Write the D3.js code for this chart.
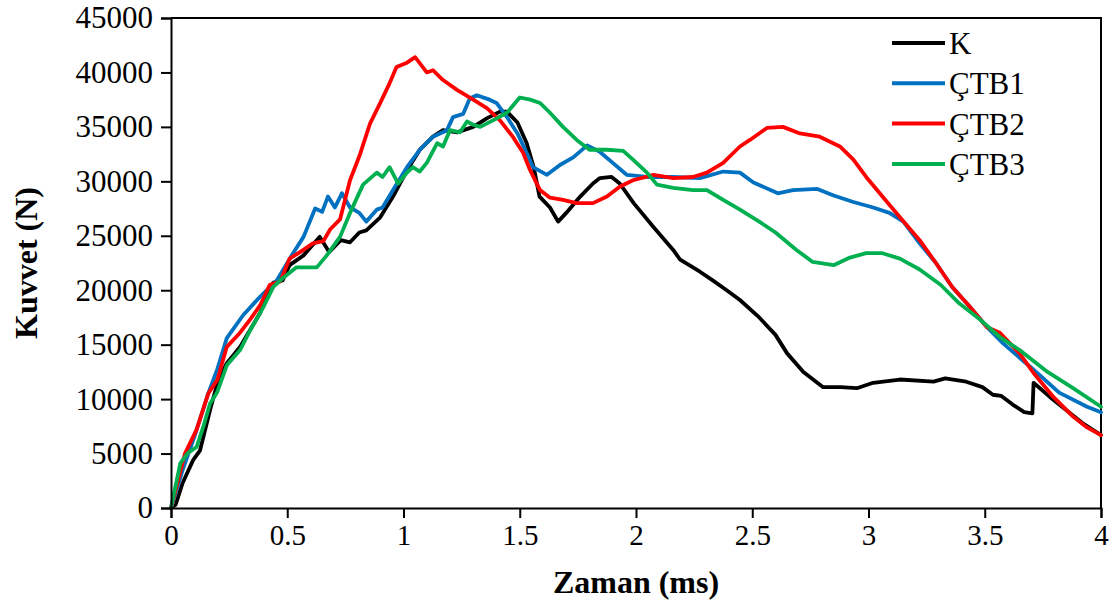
<!DOCTYPE html>
<html>
	<head>
		<meta charset="utf-8">
		<title></title>
		<script src="https://d3js.org/d3.v7.min.js"></script>
		<style>
			body { margin: 0; background: #fff; }
			text { font-family: "Liberation Serif", "Times New Roman", serif; fill: #000; }
		</style>
	</head>
	<body>
		<div class="main_div"></div>
		<script>

			// Dados (tempo em ms, kuvvet em N)
			var serieNomes = ["K", "ÇTB1", "ÇTB2", "ÇTB3"];
			var serieCores = ["#000000", "#0070C0", "#FF0000", "#00B050"];

			var tK = [0, 0.02, 0.05, 0.095, 0.125, 0.168, 0.2, 0.24, 0.297, 0.383, 0.44, 0.48, 0.51, 0.57, 0.64, 0.68, 0.73, 0.77, 0.81, 0.84, 0.9, 0.955, 1.015, 1.07, 1.127, 1.17, 1.23, 1.30, 1.36, 1.415, 1.445, 1.49, 1.53, 1.56, 1.585, 1.63, 1.665, 1.70, 1.76, 1.815, 1.845, 1.895, 1.93, 1.99, 2.075, 2.16, 2.19, 2.275, 2.33, 2.39, 2.447, 2.53, 2.6, 2.65, 2.72, 2.805, 2.88, 2.95, 3.02, 3.135, 3.28, 3.33, 3.42, 3.49, 3.535, 3.57, 3.62, 3.67, 3.705, 3.71, 3.78, 3.85, 3.92, 4.0];
			var fK = [0, 300, 2300, 4400, 5300, 9000, 11500, 13300, 14800, 17900, 20700, 20900, 22300, 23200, 24900, 23500, 24600, 24400, 25300, 25500, 26700, 28600, 31000, 32900, 34100, 34700, 34500, 35000, 35800, 36400, 36400, 35400, 33500, 31300, 28600, 27600, 26300, 27100, 28600, 29800, 30300, 30400, 29800, 28000, 25800, 23700, 22800, 21700, 20900, 20000, 19100, 17500, 15900, 14200, 12500, 11100, 11100, 11000, 11500, 11800, 11600, 11900, 11600, 11100, 10400, 10300, 9500, 8800, 8700, 11500, 10200, 9000, 7800, 6700];

			var tC1 = [0, 0.05, 0.1, 0.16, 0.2, 0.24, 0.31, 0.383, 0.455, 0.525, 0.57, 0.62, 0.65, 0.675, 0.705, 0.735, 0.77, 0.81, 0.84, 0.885, 0.91, 0.955, 1.015, 1.07, 1.127, 1.187, 1.213, 1.257, 1.285, 1.315, 1.37, 1.40, 1.445, 1.49, 1.53, 1.557, 1.617, 1.673, 1.73, 1.79, 1.845, 1.90, 1.96, 2.047, 2.16, 2.275, 2.375, 2.447, 2.505, 2.61, 2.675, 2.78, 2.85, 2.935, 3.02, 3.09, 3.15, 3.22, 3.29, 3.36, 3.435, 3.51, 3.58, 3.65, 3.71, 3.82, 3.94, 4.0];
			var fC1 = [0, 3500, 6500, 10500, 12800, 15600, 17700, 19400, 20900, 23400, 24900, 27500, 27200, 28600, 27600, 28900, 27600, 27100, 26300, 27400, 27600, 29200, 31300, 32900, 34100, 34700, 35900, 36200, 37600, 37900, 37500, 37200, 35900, 34400, 32600, 31300, 30600, 31500, 32200, 33300, 32700, 31700, 30600, 30400, 30400, 30300, 30900, 30800, 29900, 28900, 29200, 29300, 28700, 28100, 27600, 27100, 26300, 24300, 22500, 20300, 18500, 16600, 15100, 13800, 12700, 10600, 9300, 8800];

			var tC2 = [0, 0.06, 0.11, 0.16, 0.2, 0.24, 0.297, 0.34, 0.383, 0.425, 0.47, 0.51, 0.555, 0.61, 0.655, 0.685, 0.727, 0.77, 0.81, 0.856, 0.9, 0.94, 0.97, 1.015, 1.05, 1.10, 1.127, 1.17, 1.23, 1.30, 1.36, 1.415, 1.47, 1.515, 1.545, 1.587, 1.63, 1.686, 1.745, 1.815, 1.875, 1.93, 1.987, 2.075, 2.16, 2.245, 2.305, 2.375, 2.447, 2.49, 2.563, 2.632, 2.705, 2.79, 2.877, 2.935, 2.99, 3.06, 3.135, 3.22, 3.29, 3.36, 3.435, 3.51, 3.565, 3.65, 3.71, 3.795, 3.88, 3.94, 4.0];
			var fC2 = [0, 5000, 7200, 10500, 11800, 14800, 16100, 17300, 18600, 20500, 20800, 22900, 23500, 24300, 24500, 25600, 26500, 30100, 32300, 35300, 37200, 39000, 40500, 40900, 41400, 40000, 40200, 39300, 38400, 37500, 36700, 35600, 34100, 32600, 31000, 29200, 28500, 28300, 28000, 28000, 28600, 29500, 30100, 30600, 30300, 30400, 30800, 31700, 33200, 33800, 34900, 35000, 34400, 34100, 33200, 32000, 30400, 28600, 26700, 24600, 22500, 20300, 18500, 16600, 16100, 14200, 12400, 10200, 8400, 7400, 6700];

			var tC3 = [0, 0.04, 0.07, 0.11, 0.138, 0.168, 0.198, 0.24, 0.297, 0.34, 0.396, 0.44, 0.48, 0.54, 0.627, 0.67, 0.727, 0.77, 0.826, 0.885, 0.91, 0.94, 0.977, 1.015, 1.04, 1.07, 1.10, 1.145, 1.17, 1.2, 1.243, 1.273, 1.3, 1.33, 1.385, 1.445, 1.5, 1.545, 1.587, 1.63, 1.686, 1.745, 1.80, 1.875, 1.945, 1.987, 2.047, 2.09, 2.16, 2.245, 2.305, 2.375, 2.447, 2.53, 2.6, 2.69, 2.76, 2.85, 2.92, 2.99, 3.06, 3.135, 3.22, 3.31, 3.39, 3.48, 3.565, 3.65, 3.77, 3.88, 4.0];
			var fC3 = [0, 4100, 5000, 5600, 7400, 9600, 10600, 13100, 14500, 16300, 18400, 20300, 21100, 22100, 22100, 23200, 24900, 27100, 29700, 30800, 30400, 31300, 29800, 30800, 31300, 30900, 31700, 33500, 33200, 34700, 34500, 35500, 35200, 35000, 35600, 36300, 37700, 37500, 37200, 36300, 35000, 33800, 32900, 32900, 32800, 32000, 30800, 29700, 29400, 29200, 29200, 28300, 27400, 26300, 25300, 23700, 22600, 22300, 23000, 23400, 23400, 22900, 21900, 20500, 18800, 17300, 15700, 14500, 12500, 11000, 9300];

			var xTicks = [0, 0.5, 1, 1.5, 2, 2.5, 3, 3.5, 4];
			var yTicks = [0, 5000, 10000, 15000, 20000, 25000, 30000, 35000, 40000, 45000];

			var tempos = [tK, tC1, tC2, tC3];
			var forcas = [fK, fC1, fC2, fC3];
			var series = serieNomes.map(function(n, i){
				return { nome: n, cor: serieCores[i], pontos: tempos[i].map(function(t, j){ return [t, forcas[i][j]]; }) };
			});

			// Svg
			var W = 1115, H = 603;
			var mLeft = 171, mRight = 1101, mTop = 18, mBottom = 508;
			var svg = d3.select(".main_div").append("svg").attr("width", W).attr("height", H);

			// Escalas
			var xScale = d3.scaleLinear().domain([0, 4]).range([mLeft, mRight]);
			var yScale = d3.scaleLinear().domain([0, 45000]).range([mBottom, mTop]);

			// Moldura superior e direita
			svg.append("path").attr("d", "M" + mLeft + "," + mTop + "H" + mRight + "V" + mBottom)
				.attr("fill", "none").attr("stroke", "#000").attr("stroke-width", 2);

			// Linhas
			var linha = d3.line().x(function(d){ return xScale(d[0]); }).y(function(d){ return yScale(d[1]); });
			svg.selectAll("path.serie").data(series).enter().append("path")
				.attr("class", "serie")
				.attr("d", function(d){ return linha(d.pontos); })
				.attr("fill", "none")
				.attr("stroke", function(d){ return d.cor; })
				.attr("stroke-width", 3.8)
				.attr("stroke-linejoin", "round")
				.attr("stroke-linecap", "round");

			// Axis
			var xAxis = d3.axisBottom(xScale).tickValues(xTicks).tickSize(10).tickPadding(6).tickFormat(d3.format(""));
			var yAxis = d3.axisLeft(yScale).tickValues(yTicks).tickSize(10).tickPadding(8).tickFormat(d3.format("d"));
			var xAxisGroup = svg.append("g").attr("transform", "translate(0," + mBottom + ")").call(xAxis);
			var yAxisGroup = svg.append("g").attr("transform", "translate(" + mLeft + ",0)").call(yAxis);
			[xAxisGroup, yAxisGroup].forEach(function(g){
				g.select(".domain").attr("stroke", "#000").attr("stroke-width", 2);
				g.selectAll(".tick line").attr("stroke", "#000").attr("stroke-width", 2);
				g.selectAll(".tick text").attr("font-family", "Liberation Serif").attr("fill", "#000");
			});
			xAxisGroup.selectAll(".tick text").attr("font-size", 29);
			yAxisGroup.selectAll(".tick text").attr("font-size", 31);

			// Titulos
			svg.append("text").attr("x", (mLeft + mRight) / 2).attr("y", 593)
				.attr("text-anchor", "middle").attr("font-size", 32).attr("font-weight", "bold").text("Zaman (ms)");
			svg.append("text").attr("transform", "translate(37," + (mTop + mBottom) / 2 + ") rotate(-90)")
				.attr("text-anchor", "middle").attr("font-size", 32).attr("font-weight", "bold").text("Kuvvet (N)");

			// Legenda
			var legenda = svg.append("g").attr("transform", "translate(892,43)");
			var item = legenda.selectAll("g").data(series).enter().append("g")
				.attr("transform", function(d, i){ return "translate(0," + (i * 40.3) + ")"; });
			item.append("line").attr("x1", 0).attr("x2", 53).attr("y1", 0).attr("y2", 0)
				.attr("stroke", function(d){ return d.cor; }).attr("stroke-width", 4);
			item.append("text").attr("x", 57).attr("y", 11).attr("font-size", 31).text(function(d){ return d.nome; });

		</script>
	</body>
</html>
